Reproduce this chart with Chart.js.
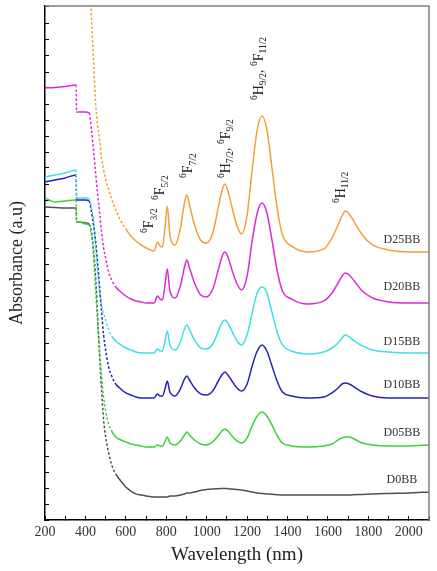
<!DOCTYPE html>
<html>
<head>
<meta charset="utf-8">
<script src="https://cdn.jsdelivr.net/npm/chart.js@4.4.0/dist/chart.umd.min.js"></script>
<style>
  html, body { margin: 0; padding: 0; background: #fff; }
  #wrap { width: 437px; height: 571px; }
</style>
</head>
<body>
<div id="wrap"><canvas id="chart" width="437" height="571"></canvas></div>
<script>
// wavelength grid (nm) shared by all spectra
const wavelengths = [200, 250, 300, 354, 356, 370, 400, 418, 430, 440, 450, 460, 470, 480, 490, 500,
  515, 530, 550, 575, 600, 625, 650, 675, 700, 740, 756, 770, 781, 795, 805, 818, 844, 870, 890, 902,
  915, 940, 970, 998, 1030, 1060, 1075, 1090, 1105, 1125, 1150, 1173, 1200, 1225, 1250, 1274, 1298,
  1323, 1350, 1375, 1420, 1500, 1580, 1620, 1650, 1670, 1686, 1705, 1730, 1770, 1820, 1900, 2000, 2100];

// absorbance (a.u., stacked as plotted)
const d25 = [null, null, null, null, null, null, null,
  3.45, 3.131, 2.869, 2.613, 2.475, 2.375, 2.263, 2.188, 2.131, 2.063, 2.006, 1.938, 1.869, 1.819, 1.775, 1.744, 1.719, 1.700,
  1.681, 1.738, 1.713, 1.706, 1.844, 1.963, 1.781, 1.719, 1.825, 1.981, 2.031, 1.969, 1.844, 1.750, 1.731,
  1.794, 1.969, 2.056, 2.100, 2.056, 1.956, 1.838, 1.788, 1.906, 2.188, 2.438, 2.525, 2.438, 2.200, 1.938, 1.781,
  1.713, 1.675, 1.694, 1.763, 1.844, 1.900, 1.931, 1.913, 1.863, 1.781, 1.719, 1.688, 1.675, 1.675];
const d20 = [2.700, 2.703, 2.709, 2.719, 2.550, 2.550, 2.550,
  2.544, 2.438, 2.313, 2.175, 2.044, 1.925, 1.800, 1.700, 1.638, 1.550, 1.500, 1.456, 1.425, 1.400, 1.381, 1.369, 1.363, 1.356,
  1.356, 1.400, 1.381, 1.375, 1.481, 1.569, 1.431, 1.388, 1.463, 1.581, 1.625, 1.575, 1.481, 1.406, 1.394,
  1.444, 1.575, 1.644, 1.675, 1.644, 1.563, 1.475, 1.438, 1.525, 1.744, 1.919, 1.981, 1.919, 1.750, 1.550, 1.431,
  1.381, 1.350, 1.369, 1.419, 1.481, 1.525, 1.544, 1.531, 1.494, 1.431, 1.388, 1.363, 1.356, 1.356];
const d15 = [2.144, 2.156, 2.169, 2.188, 2.013, 2.013, 2.013,
  2.006, 1.950, 1.875, 1.720, 1.560, 1.430, 1.340, 1.290, 1.250, 1.188, 1.150, 1.119, 1.094, 1.075, 1.063, 1.050, 1.044, 1.044,
  1.044, 1.069, 1.056, 1.056, 1.125, 1.181, 1.094, 1.063, 1.113, 1.194, 1.219, 1.188, 1.125, 1.075, 1.069,
  1.100, 1.188, 1.231, 1.250, 1.231, 1.181, 1.119, 1.094, 1.156, 1.294, 1.419, 1.456, 1.419, 1.300, 1.169, 1.094,
  1.056, 1.038, 1.050, 1.075, 1.106, 1.138, 1.156, 1.144, 1.119, 1.088, 1.063, 1.050, 1.044, 1.044];
const d10 = [2.113, 2.125, 2.138, 2.156, 2.000, 2.000, 2.000,
  1.994, 1.925, 1.844, 1.750, 1.613, 1.460, 1.300, 1.156, 1.063, 0.956, 0.900, 0.850, 0.819, 0.794, 0.781, 0.769, 0.763, 0.763,
  0.763, 0.788, 0.775, 0.775, 0.825, 0.869, 0.800, 0.775, 0.819, 0.881, 0.900, 0.875, 0.825, 0.788, 0.781,
  0.806, 0.875, 0.906, 0.925, 0.906, 0.869, 0.825, 0.806, 0.850, 0.963, 1.056, 1.094, 1.056, 0.963, 0.863, 0.800,
  0.775, 0.763, 0.769, 0.794, 0.825, 0.850, 0.856, 0.850, 0.831, 0.800, 0.775, 0.763, 0.763, 0.763];
const d05 = [2.013, 1.988, 1.994, 2.000, 1.863, 1.863, 1.850,
  1.844, 1.781, 1.656, 1.450, 1.250, 1.063, 0.894, 0.769, 0.681, 0.600, 0.556, 0.519, 0.500, 0.488, 0.475, 0.469, 0.463, 0.456,
  0.456, 0.469, 0.463, 0.463, 0.494, 0.519, 0.481, 0.469, 0.494, 0.531, 0.550, 0.531, 0.500, 0.475, 0.469,
  0.488, 0.531, 0.556, 0.569, 0.556, 0.525, 0.494, 0.481, 0.513, 0.588, 0.650, 0.675, 0.650, 0.594, 0.525, 0.481,
  0.463, 0.456, 0.463, 0.475, 0.500, 0.513, 0.519, 0.519, 0.506, 0.481, 0.469, 0.463, 0.463, 0.469];
const d0 = [1.956, 1.953, 1.950, 1.950, 1.863, 1.863, 1.856,
  1.850, 1.800, 1.688, 1.531, 1.281, 1.031, 0.813, 0.625, 0.519, 0.419, 0.344, 0.288, 0.244, 0.206, 0.181, 0.163, 0.156, 0.150,
  0.144, 0.144, 0.144, 0.144, 0.144, 0.144, 0.150, 0.150, 0.156, 0.163, 0.169, 0.169, 0.175, 0.185, 0.190,
  0.194, 0.196, 0.197, 0.197, 0.196, 0.194, 0.190, 0.187, 0.181, 0.175, 0.169, 0.165, 0.163, 0.161, 0.158, 0.156,
  0.156, 0.156, 0.156, 0.156, 0.156, 0.156, 0.156, 0.156, 0.158, 0.160, 0.163, 0.166, 0.169, 0.175];

const seriesNames = ["D25BB", "D20BB", "D15BB", "D10BB", "D05BB", "D0BB"];
const seriesColors = ["#F2A03A", "#DC2BD6", "#3EE0E6", "#2424B4", "#3AD43A", "#505050"];
const seriesData = [d25, d20, d15, d10, d05, d0];

// where the sample names sit (nm, absorbance)
const nameNm = 1966;
const nameY = [1.75, 1.456, 1.1125, 0.844, 0.544, 0.25];

// transition labels: [text, kind] pieces, anchored at (nm, absorbance)
const peakLabels = [
  [["6", "sup"], ["F", "n"], ["3/2", "sub"]],
  [["6", "sup"], ["F", "n"], ["5/2", "sub"]],
  [["6", "sup"], ["F", "n"], ["7/2", "sub"]],
  [["6", "sup"], ["H", "n"], ["7/2", "sub"], [", ", "n"], ["6", "sup"], ["F", "n"], ["9/2", "sub"]],
  [["6", "sup"], ["H", "n"], ["9/2", "sub"], [", ", "n"], ["6", "sup"], ["F", "n"], ["11/2", "sub"]],
  [["6", "sup"], ["H", "n"], ["11/2", "sub"]]
];
const peakNm = [735, 789, 929, 1113, 1278, 1684];
const peakY = [1.794, 2.0, 2.138, 2.138, 2.625, 1.981];

const SERIF = '"Liberation Serif", "Times New Roman", serif';

const annotate = {
  id: "annotate",
  afterDatasetsDraw(chart) {
    const { ctx, chartArea, scales: { x, y } } = chart;
    ctx.save();
    // grey top/right frame
    ctx.strokeStyle = "#808080";
    ctx.lineWidth = 1.5;
    ctx.beginPath();
    ctx.moveTo(chartArea.left, chartArea.top);
    ctx.lineTo(chartArea.right, chartArea.top);
    ctx.lineTo(chartArea.right, chartArea.bottom);
    ctx.stroke();

    // sample names
    ctx.fillStyle = "#333";
    ctx.font = "12px " + SERIF;
    ctx.textAlign = "center";
    ctx.textBaseline = "middle";
    seriesNames.forEach((n, i) => {
      ctx.fillText(n, x.getPixelForValue(nameNm), y.getPixelForValue(nameY[i]));
    });

    // rotated term symbols
    ctx.fillStyle = "#222";
    peakLabels.forEach((segs, i) => {
      ctx.save();
      ctx.translate(x.getPixelForValue(peakNm[i]), y.getPixelForValue(peakY[i]));
      ctx.rotate(-Math.PI / 2);
      ctx.textAlign = "left";
      ctx.textBaseline = "alphabetic";
      let pos = 0;
      segs.forEach(([t, k]) => {
        ctx.font = (k === "n" ? "14px " : "9.5px ") + SERIF;
        const dy = k === "sup" ? -6 : (k === "sub" ? 3.5 : 0);
        ctx.fillText(t, pos, dy);
        pos += ctx.measureText(t).width;
      });
      ctx.restore();
    });
    ctx.restore();
  }
};

// the fast UV edge was sampled sparsely, so it shows as a dotted trace
const steep = c => (c.p1.parsed.x <= 600 && Math.abs(c.p1.y - c.p0.y) > 1.5 * Math.abs(c.p1.x - c.p0.x)) ? [2.5, 2] : undefined;

new Chart(document.getElementById("chart"), {
  type: "line",
  data: {
    datasets: seriesData.map((vals, i) => ({
      label: seriesNames[i],
      data: wavelengths.map((w, j) => ({ x: w, y: vals[j] })).filter(p => p.y !== null),
      borderColor: seriesColors[i],
      borderWidth: 1.5,
      pointRadius: 0,
      cubicInterpolationMode: "monotone",
      segment: { borderDash: steep }
    }))
  },
  options: {
    responsive: false,
    animation: false,
    layout: { padding: { top: 6, right: 1, left: 0, bottom: 0 } },
    plugins: { legend: { display: false }, tooltip: { enabled: false } },
    scales: {
      x: {
        type: "linear",
        min: 200,
        max: 2100,
        afterFit: s => { s.height = 51; },
        border: { color: "#000", width: 1.5 },
        grid: { drawOnChartArea: false, tickLength: -4, color: "#000", lineWidth: 1 },
        ticks: {
          stepSize: 100,
          autoSkip: false,
          maxRotation: 0,
          padding: 8,
          color: "#333",
          font: { family: SERIF, size: 14 },
          callback: v => (v % 200 === 0 ? v : "")
        },
        title: {
          display: true,
          text: "Wavelength (nm)",
          color: "#222",
          font: { family: SERIF, size: 19 },
          padding: { top: 0, bottom: 5 }
        }
      },
      y: {
        min: 0,
        max: 3.2125,
        afterFit: s => { s.width = 45; },
        border: { color: "#000", width: 1.5 },
        grid: { drawOnChartArea: false, tickLength: -4, color: "#000", lineWidth: 1 },
        ticks: { stepSize: 0.1, display: false },
        title: {
          display: true,
          text: "Absorbance (a.u)",
          color: "#222",
          font: { family: SERIF, size: 18 },
          padding: { top: 6, bottom: 0 }
        }
      }
    }
  },
  plugins: [annotate]
});
</script>
</body>
</html>
